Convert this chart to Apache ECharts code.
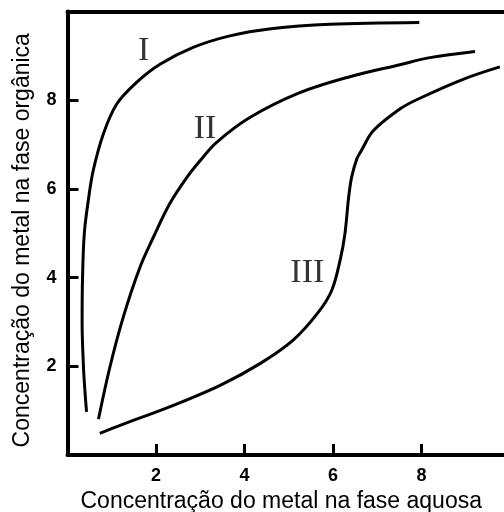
<!DOCTYPE html>
<html>
<head>
<meta charset="utf-8">
<script src="https://cdn.jsdelivr.net/npm/echarts@6/dist/echarts.min.js"></script>
<style>
html,body{margin:0;padding:0;background:#fff;}
#chart{width:504px;height:512px;}
</style>
</head>
<body>
<div id="chart"></div>
<script>
// Data: [aqueous concentration, organic concentration]
const curveI = [[0.43,0.97],[0.39,1.5],[0.36,2.0],[0.33,3.0],[0.34,4.0],[0.38,5.0],[0.47,5.74],[0.58,6.41],[0.81,7.24],[1.11,7.91],[1.56,8.40],[2.09,8.81],[2.84,9.19],[3.67,9.45],[4.6,9.61],[5.93,9.71],[7.95,9.75]];
const curveII = [[0.70,0.81],[0.96,1.99],[1.26,3.11],[1.64,4.24],[1.94,4.91],[2.30,5.65],[2.69,6.25],[3.0,6.64],[3.37,7.05],[4.12,7.61],[5.25,8.17],[6.38,8.53],[7.51,8.80],[8.19,8.96],[9.21,9.10]];
const curveIII = [[0.73,0.49],[1.19,0.67],[2.32,1.09],[3.45,1.57],[4.35,2.06],[5.10,2.59],[5.67,3.22],[5.97,3.71],[6.16,4.39],[6.27,4.99],[6.35,5.78],[6.42,6.26],[6.54,6.68],[6.65,6.88],[6.91,7.31],[7.51,7.80],[7.89,8.01],[8.94,8.47],[9.77,8.75]];
const curveLabels = [[1.72,9.11,'I'],[3.11,7.36,'II'],[5.42,4.11,'III']];
const xTickLabels = ['2','4','6','8'];
const yTickLabels = ['2','4','6','8'];
const xTitle = 'Concentração do metal na fase aquosa';
const yTitle = 'Concentração do metal na fase orgânica';

const chart = echarts.init(document.getElementById('chart'));
const sans = "'Liberation Sans', Arial, Helvetica, sans-serif";
const lineSeries = (name, data) => ({
  name, type:'line', data, smooth:0.35, symbol:'none',
  lineStyle:{color:'#000', width:3}, silent:true, z:3
});
const labelFmt = list => v => (list.indexOf(String(v)) >= 0 ? String(v) : '');
const tickLabelStyle = {color:'#000', fontSize:18, fontWeight:'bold', fontFamily:sans};
chart.setOption({
  animation:false,
  backgroundColor:'#fff',
  grid:{left:67.5, top:11.5, right:-6, bottom:57, outerBoundsMode:'none', containLabel:false},
  xAxis:[{
    type:'value', min:0, max:10, interval:2, position:'bottom', z:5,
    splitLine:{show:false},
    axisLine:{show:true, onZero:false, lineStyle:{color:'#000', width:4}},
    axisTick:{show:true, inside:true, length:11, lineStyle:{color:'#000', width:3}},
    axisLabel:Object.assign({show:true, formatter:labelFmt(xTickLabels), margin:12}, tickLabelStyle),
    name:xTitle, nameLocation:'middle', nameGap:28,
    nameTextStyle:{color:'#000', fontSize:23, fontFamily:sans, padding:[0,15,0,0]}
  },{
    type:'value', min:0, max:10, position:'top', z:5,
    splitLine:{show:false},
    axisLine:{show:true, onZero:false, lineStyle:{color:'#000', width:4}},
    axisTick:{show:false}, axisLabel:{show:false}
  }],
  yAxis:{
    type:'value', min:0, max:10, interval:2, position:'left', z:5,
    splitLine:{show:false},
    axisLine:{show:true, onZero:false, lineStyle:{color:'#000', width:4}},
    axisTick:{show:true, inside:true, length:11, lineStyle:{color:'#000', width:3}},
    axisLabel:Object.assign({show:true, formatter:labelFmt(yTickLabels), margin:11}, tickLabelStyle),
    name:yTitle, nameLocation:'middle', nameGap:33,
    nameTextStyle:{color:'#000', fontSize:23, fontFamily:sans, padding:[0,14,0,0]}
  },
  series:[
    lineSeries('I', curveI),
    lineSeries('II', curveII),
    lineSeries('III', curveIII),
    {
      type:'scatter', data:curveLabels, symbolSize:0, silent:true,
      label:{show:true, position:'inside', formatter:p=>p.value[2], color:'#000',
             fontSize:34, fontFamily:"'Liberation Serif', 'Times New Roman', serif"}
    }
  ]
});
</script>
</body>
</html>
